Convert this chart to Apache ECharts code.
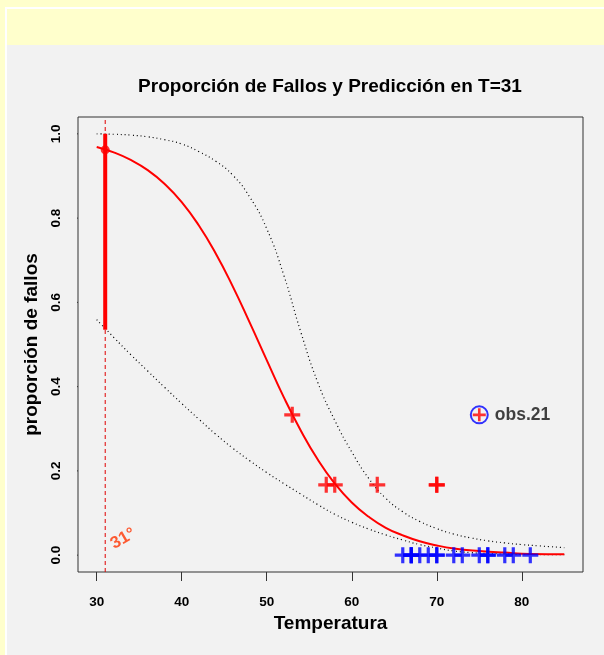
<!DOCTYPE html>
<html>
<head>
<meta charset="utf-8">
<script src="https://cdn.jsdelivr.net/npm/echarts@6/dist/echarts.min.js"></script>
<style>
  body { margin: 0; background: #ffffcc; width: 604px; height: 655px; overflow: hidden; position: relative; }
  #vline { position: absolute; left: 5px; top: 7px; width: 2px; height: 648px; background: #fff; }
  #hline { position: absolute; left: 5px; top: 7px; width: 599px; height: 2px; background: #fff; }
  #panel { position: absolute; left: 7px; top: 45px; width: 597px; height: 610px; background: #f2f2f2; }
  #chart { position: absolute; left: 0; top: 0; width: 604px; height: 655px; }
</style>
</head>
<body>
<div id="vline"></div>
<div id="hline"></div>
<div id="panel"></div>
<div id="chart"></div>
<script>
// curva ajustada
var fitTemp = [30, 32, 34, 36, 38, 40, 42, 44, 46, 48, 50, 52, 54, 56, 58, 60, 62, 64, 66, 68, 70, 72, 75, 78, 81, 85];
var fitProb = [0.969, 0.956, 0.938, 0.914, 0.881, 0.838, 0.783, 0.716, 0.638, 0.552, 0.463, 0.375, 0.296, 0.227, 0.170, 0.125, 0.091, 0.065, 0.047, 0.033, 0.023, 0.016, 0.010, 0.006, 0.003, 0.002];

// bandas de confianza
var bandTemp = [30, 32, 34, 36, 38, 40, 42, 44, 46, 48, 50, 52, 54, 56, 58, 60, 62, 64, 66, 68, 70, 72, 74, 76, 78, 80, 82, 85];
var upperProb = [1.0, 0.999, 0.997, 0.993, 0.986, 0.976, 0.958, 0.935, 0.902, 0.850, 0.775, 0.665, 0.530, 0.410, 0.320, 0.245, 0.182, 0.135, 0.103, 0.080, 0.063, 0.050, 0.041, 0.034, 0.029, 0.025, 0.022, 0.018];
var lowerProb = [0.559, 0.517, 0.476, 0.437, 0.398, 0.360, 0.323, 0.287, 0.254, 0.224, 0.196, 0.170, 0.145, 0.120, 0.097, 0.078, 0.062, 0.048, 0.036, 0.025, 0.017, 0.010, 0.006, 0.004, 0.003, 0.002, 0.0015, 0.001];

// observaciones
var failTemp = [53, 57, 58, 63, 70, 70];
var failProp = [0.333, 0.167, 0.167, 0.167, 0.167, 0.167];
var zeroTemp = [66, 67, 67, 67, 68, 69, 70, 70, 72, 73, 75, 76, 76, 78, 79, 81];
var obs21 = [75, 0.333];

// prediccion en T=31
var predT = 31;
var predP = 0.962;
var predCI = [0.535, 1.0];

var xTicks = [30, 40, 50, 60, 70, 80];
var yTicks = [0, 0.2, 0.4, 0.6, 0.8, 1.0];
var xMin = 27.8, xMax = 87.2, yMin = -0.04, yMax = 1.04;

function pairs(xs, ys) {
    var out = [];
    for (var i = 0; i < xs.length; i++) out.push([xs[i], ys[i]]);
    return out;
}

var CROSS = 'path://M6.4,0h3.2v6.4h6.4v3.2h-6.4v6.4h-3.2v-6.4h-6.4v-3.2h6.4z';
var FONT = 'Liberation Sans';

var series = [
    {
        type: 'line', data: [[predT, yMin], [predT, yMax]], symbol: 'none',
        lineStyle: { color: '#e00000', width: 1, type: [4, 3] }, z: 1
    },
    {
        type: 'line', data: pairs(bandTemp, upperProb), symbol: 'none', smooth: true,
        lineStyle: { color: '#000', width: 1.2, type: [1, 3] }, z: 2
    },
    {
        type: 'line', data: pairs(bandTemp, lowerProb), symbol: 'none', smooth: true,
        lineStyle: { color: '#000', width: 1.2, type: [1, 3] }, z: 2
    },
    {
        type: 'line', data: pairs(fitTemp, fitProb), symbol: 'none', smooth: true,
        lineStyle: { color: '#ff0000', width: 2 }, z: 3
    },
    {
        type: 'line', data: [[predT, predCI[0]], [predT, predCI[1]]], symbol: 'none',
        lineStyle: { color: '#ff0000', width: 4 }, z: 4
    },
    {
        type: 'scatter', data: [[predT, predP]], symbol: 'circle', symbolSize: 9,
        itemStyle: { color: '#ff0000' }, z: 5
    },
    {
        type: 'scatter', data: pairs(failTemp, failProp), symbol: CROSS, symbolSize: 16,
        itemStyle: { color: '#ff0000' }, z: 6
    },
    {
        type: 'scatter', data: pairs(zeroTemp, zeroTemp.map(function () { return 0; })),
        symbol: CROSS, symbolSize: 16, itemStyle: { color: '#0000ff' }, z: 6
    },
    {
        type: 'scatter', data: [obs21], symbol: 'circle', symbolSize: 17,
        itemStyle: { color: 'transparent', borderColor: '#0000ff', borderWidth: 2 },
        label: {
            show: true, position: 'right', distance: 6, formatter: 'obs.21',
            fontFamily: FONT, fontSize: 17.5, fontWeight: 'bold', color: '#111'
        }, z: 7
    },
    {
        type: 'scatter', data: [obs21], symbol: CROSS, symbolSize: 13,
        itemStyle: { color: '#ff0000' }, z: 8
    },
    {
        type: 'scatter', data: [[33.1, 0.039]], symbol: 'circle', symbolSize: 1,
        itemStyle: { color: 'rgba(0,0,0,0)' },
        label: {
            show: true, position: 'inside', formatter: '31°', rotate: 30,
            fontFamily: FONT, fontSize: 17, fontWeight: 'bold', color: '#ff3300'
        }, z: 9
    }
];

// marcas del eje y: un segmento corto hacia fuera del borde izquierdo
// (9 px a 8.48 px por grado = 1.06 grados)
yTicks.forEach(function (v) {
    series.push({
        type: 'line', clip: false, silent: true, symbol: 'none',
        data: [[xMin - 1.06, v], [xMin, v]],
        lineStyle: { color: '#333', width: 1 }, z: 10
    });
});

var chart = echarts.init(document.getElementById('chart'));
var option = {
    animation: false,
    title: {
        text: 'Proporción de Fallos y Predicción en T=31',
        left: 325, top: 72, textAlign: 'center',
        textStyle: { fontFamily: FONT, fontSize: 19, fontWeight: 'bold', color: '#000' }
    },
    grid: {
        left: 78, right: 21, top: 117, bottom: 83,
        show: true, borderColor: '#333', borderWidth: 1, backgroundColor: 'transparent'
    },
    xAxis: {
        type: 'value', min: xMin, max: xMax,
        name: 'Temperatura', nameLocation: 'middle', nameGap: 41,
        nameTextStyle: { fontFamily: FONT, fontSize: 19, fontWeight: 'bold', color: '#000' },
        axisLine: { show: false, onZero: false },
        splitLine: { show: false },
        axisTick: { show: true, inside: false, customValues: xTicks, length: 9, lineStyle: { color: '#333', width: 1 } },
        axisLabel: {
            customValues: xTicks, margin: 23,
            fontFamily: FONT, fontSize: 13.5, fontWeight: 'bold', color: '#000'
        }
    },
    yAxis: {
        type: 'value', min: yMin, max: yMax,
        name: 'proporción de fallos', nameLocation: 'middle', nameGap: 37,
        nameTextStyle: { fontFamily: FONT, fontSize: 19, fontWeight: 'bold', color: '#000' },
        axisLine: { show: false, onZero: false },
        splitLine: { show: false },
        axisTick: { show: false },
        axisLabel: {
            customValues: yTicks, rotate: 90, margin: 15,
            fontFamily: FONT, fontSize: 13.5, fontWeight: 'bold', color: '#000',
            formatter: function (v) { return v.toFixed(1); }
        }
    },
    series: series
};
chart.setOption(option);
</script>
</body>
</html>
